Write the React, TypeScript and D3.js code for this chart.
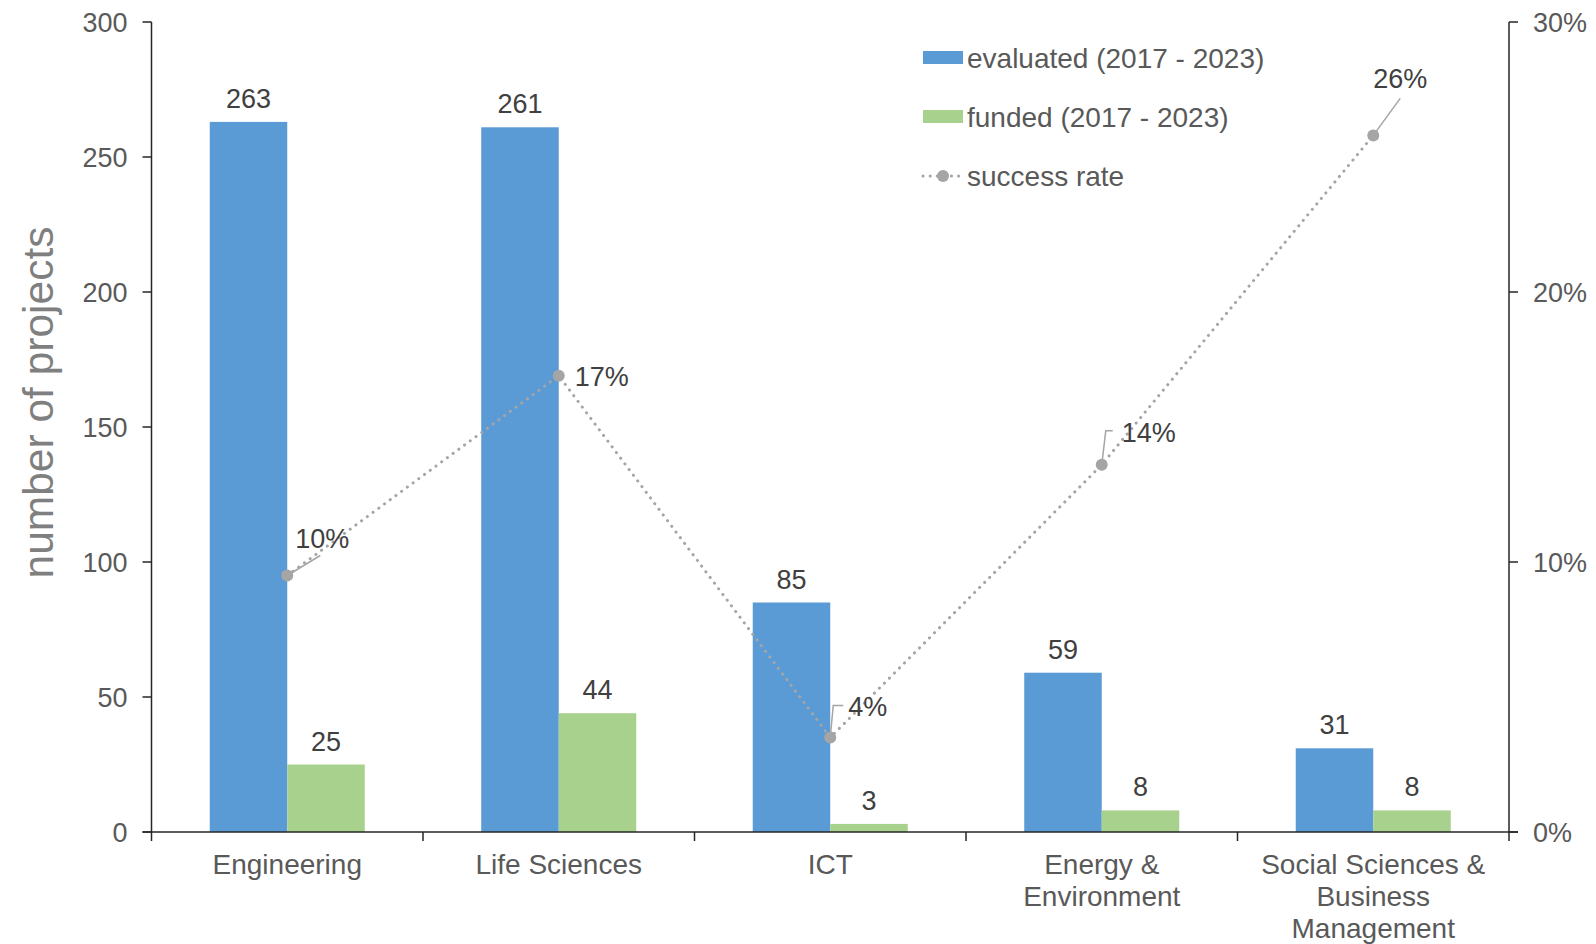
import React from "react";
import * as d3 from "d3";

const categories = ["Engineering", "Life Sciences", "ICT", "Energy & Environment", "Social Sciences & Business Management"];
const categoryLines = [["Engineering"], ["Life Sciences"], ["ICT"], ["Energy &", "Environment"], ["Social Sciences &", "Business", "Management"]];
const evaluated = [263, 261, 85, 59, 31];
const funded = [25, 44, 3, 8, 8];
const successRate = [9.5, 16.9, 3.5, 13.6, 25.8];
const successLabels = ["10%", "17%", "4%", "14%", "26%"];
const leftTicks = [0, 50, 100, 150, 200, 250, 300];
const rightTicks = [0, 10, 20, 30];
const seriesNames = ["evaluated (2017 - 2023)", "funded (2017 - 2023)", "success rate"];

// layout of rate label callouts (relative to the point)
const rateLabelLayout = [
  { leader: [[0, 0], [33, -20]], dx: 8, dy: -28 },
  { leader: null, dx: 16, dy: 10 },
  { leader: [[0, 0], [3, -32], [13, -32]], dx: 18, dy: -22 },
  { leader: [[0, 0], [4, -34], [11, -34]], dx: 20, dy: -23 },
  { leader: [[0, 0], [27, -37]], dx: 0, dy: -47 },
];

const W = 1596, H = 944;
const left = 151.5, right = 1509, top = 22, bottom = 832;
const BLUE = "#5b9bd5", GREEN = "#a9d18e", GRAY = "#a5a5a5";
const FONT = "'Liberation Sans', Arial, sans-serif";

export default function App() {
  const x = d3.scaleBand<string>().domain(categories).range([left, right]).padding(0);
  const y = d3.scaleLinear().domain([0, 300]).range([bottom, top]);
  const yR = d3.scaleLinear().domain([0, 30]).range([bottom, top]);
  const bw = x.bandwidth() * 0.2855;
  const cx = (c: string) => (x(c) as number) + x.bandwidth() / 2;
  const sub = (c: string) => d3.scaleBand<string>().domain(["e", "f"]).range([cx(c) - bw, cx(c) + bw]);
  const line = d3.line<number>().x((_, i) => cx(categories[i])).y((d) => yR(d));
  const axisColor = "#262626";

  return (
    <div style={{ position: "absolute", left: 0, top: 0 }}>
      <svg width={W} height={H} style={{ display: "block", background: "#fff" }} fontFamily={FONT}>
        {/* bars */}
        {categories.map((c, i) => {
          const s = sub(c);
          return (
            <g key={c}>
              <rect x={s("e")} y={y(evaluated[i])} width={s.bandwidth()} height={bottom - y(evaluated[i])} fill={BLUE} />
              <rect x={s("f")} y={y(funded[i])} width={s.bandwidth()} height={bottom - y(funded[i])} fill={GREEN} />
              <text x={(s("e") as number) + s.bandwidth() / 2} y={y(evaluated[i]) - 14} textAnchor="middle" fontSize={27} fill="#404040">{evaluated[i]}</text>
              <text x={(s("f") as number) + s.bandwidth() / 2} y={y(funded[i]) - 14} textAnchor="middle" fontSize={27} fill="#404040">{funded[i]}</text>
            </g>
          );
        })}

        {/* axes */}
        <line x1={left} x2={left} y1={top} y2={bottom} stroke={axisColor} strokeWidth={1.5} />
        <line x1={right} x2={right} y1={top} y2={bottom} stroke={axisColor} strokeWidth={1.5} />
        <line x1={left - 9} x2={right + 9} y1={bottom} y2={bottom} stroke={axisColor} strokeWidth={1.5} />
        {leftTicks.map((t) => (
          <g key={"l" + t}>
            <line x1={left - 9} x2={left} y1={y(t)} y2={y(t)} stroke={axisColor} strokeWidth={1.5} />
            <text x={left - 24} y={y(t) + 9.5} textAnchor="end" fontSize={27} fill="#595959">{t}</text>
          </g>
        ))}
        {rightTicks.map((t) => (
          <g key={"r" + t}>
            <line x1={right} x2={right + 9} y1={yR(t)} y2={yR(t)} stroke={axisColor} strokeWidth={1.5} />
            <text x={right + 24} y={yR(t) + 9.5} textAnchor="start" fontSize={27} fill="#595959">{t}%</text>
          </g>
        ))}
        {categories.map((c, i) => (
          <g key={"xt" + c}>
            <line x1={x(c)} x2={x(c)} y1={bottom} y2={bottom + 9} stroke={axisColor} strokeWidth={1.5} />
            {categoryLines[i].map((ln, k) => (
              <text key={k} x={cx(c)} y={874 + k * 32} textAnchor="middle" fontSize={28} fill="#595959">{ln}</text>
            ))}
          </g>
        ))}
        <line x1={right} x2={right} y1={bottom} y2={bottom + 9} stroke={axisColor} strokeWidth={1.5} />

        {/* y title */}
        <text transform={`translate(53, 402.5) rotate(-90)`} textAnchor="middle" fontSize={42.5} fill="#7f7f7f">number of projects</text>

        {/* success rate line */}
        <path d={line(successRate) || ""} fill="none" stroke={GRAY} strokeWidth={3} strokeDasharray="0.1 7" strokeLinecap="round" />
        {successRate.map((r, i) => {
          const px = cx(categories[i]);
          const py = yR(r);
          const L = rateLabelLayout[i];
          return (
            <g key={"sr" + i}>
              {L.leader && (
                <polyline points={L.leader.map((p) => `${px + p[0]},${py + p[1]}`).join(" ")} fill="none" stroke={GRAY} strokeWidth={1.5} />
              )}
              <circle cx={px} cy={py} r={6} fill={GRAY} />
              <text x={px + L.dx} y={py + L.dy} fontSize={27} fill="#404040">{successLabels[i]}</text>
            </g>
          );
        })}

        {/* legend */}
        <rect x={923} y={51} width={40} height={13} fill={BLUE} />
        <text x={967} y={67.5} fontSize={28} fill="#595959">{seriesNames[0]}</text>
        <rect x={923} y={110} width={40} height={13} fill={GREEN} />
        <text x={967} y={126.5} fontSize={28} fill="#595959">{seriesNames[1]}</text>
        <line x1={923} x2={963} y1={176} y2={176} stroke={GRAY} strokeWidth={3} strokeDasharray="0.1 7" strokeLinecap="round" />
        <circle cx={943} cy={176} r={6} fill={GRAY} />
        <text x={967} y={185.5} fontSize={28} fill="#595959">{seriesNames[2]}</text>
      </svg>
    </div>
  );
}
